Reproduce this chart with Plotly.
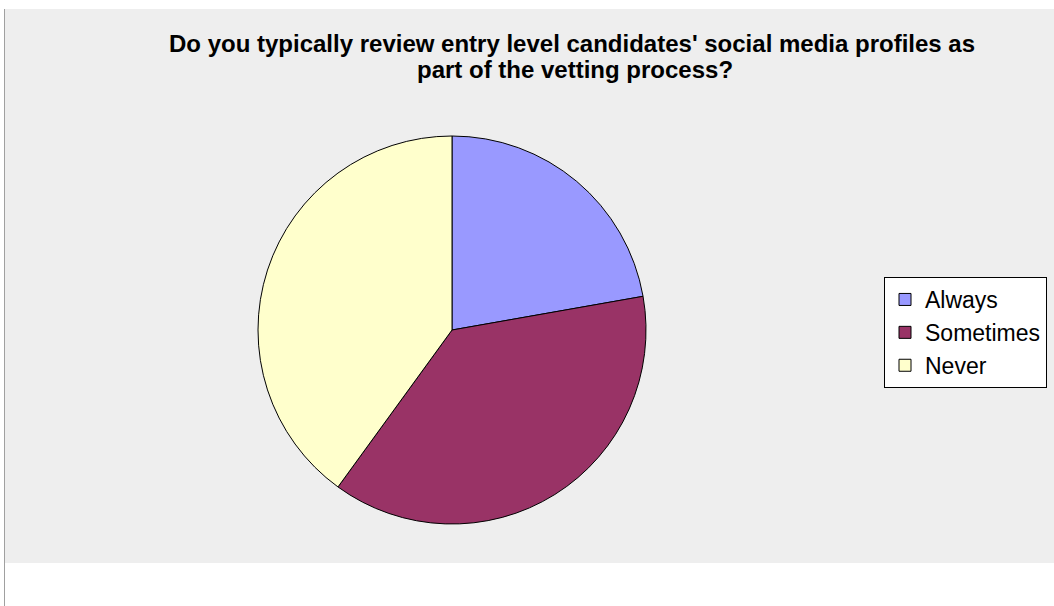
import plotly.graph_objects as go

labels = ["Always", "Sometimes", "Never"]
values = [10, 17, 18]
colors = ["#9999FF", "#993366", "#FFFFCC"]
title_lines = [
    "Do you typically review entry level candidates' social media profiles as",
    "part of the vetting process?",
]

W, H = 1054, 606

def px_x(x):
    return x / W

def px_y(y):
    return 1 - y / H

fig = go.Figure()
fig.add_trace(go.Pie(
    labels=labels,
    values=values,
    marker=dict(colors=colors, line=dict(color="#000000", width=1)),
    sort=False,
    direction="clockwise",
    rotation=0,
    textinfo="none",
    hoverinfo="label+value+percent",
    domain=dict(x=[px_x(258), px_x(646)], y=[px_y(524), px_y(136)]),
))

title_font = dict(family="Liberation Sans, Arial, sans-serif", size=24, color="#000000", weight="bold")
annotations = []
for line, yc, xc in zip(title_lines, [43, 69], [572, 575]):
    annotations.append(dict(
        text=line, xref="paper", yref="paper",
        x=px_x(xc), y=px_y(yc), xanchor="center", yanchor="middle",
        showarrow=False, font=title_font,
    ))

fig.update_layout(
    width=W, height=H,
    margin=dict(l=0, r=0, t=0, b=0),
    paper_bgcolor="#FFFFFF",
    plot_bgcolor="#FFFFFF",
    annotations=annotations,
    legend=dict(
        x=px_x(884), xanchor="left",
        y=px_y(277), yanchor="top",
        bgcolor="#FFFFFF",
        bordercolor="#000000",
        borderwidth=1,
        font=dict(family="Liberation Sans, Arial, sans-serif", size=23, color="#000000"),
        traceorder="normal",
    ),
    shapes=[
        dict(type="rect", xref="paper", yref="paper",
             x0=px_x(4), x1=1.0, y0=px_y(563), y1=px_y(9),
             fillcolor="#EEEEEE", line=dict(width=0), layer="below"),
        dict(type="line", xref="paper", yref="paper",
             x0=px_x(4.5), x1=px_x(4.5), y0=0, y1=px_y(9),
             line=dict(color="#A0A0A0", width=1), layer="below"),
    ],
)

fig.write_html("out.html")
